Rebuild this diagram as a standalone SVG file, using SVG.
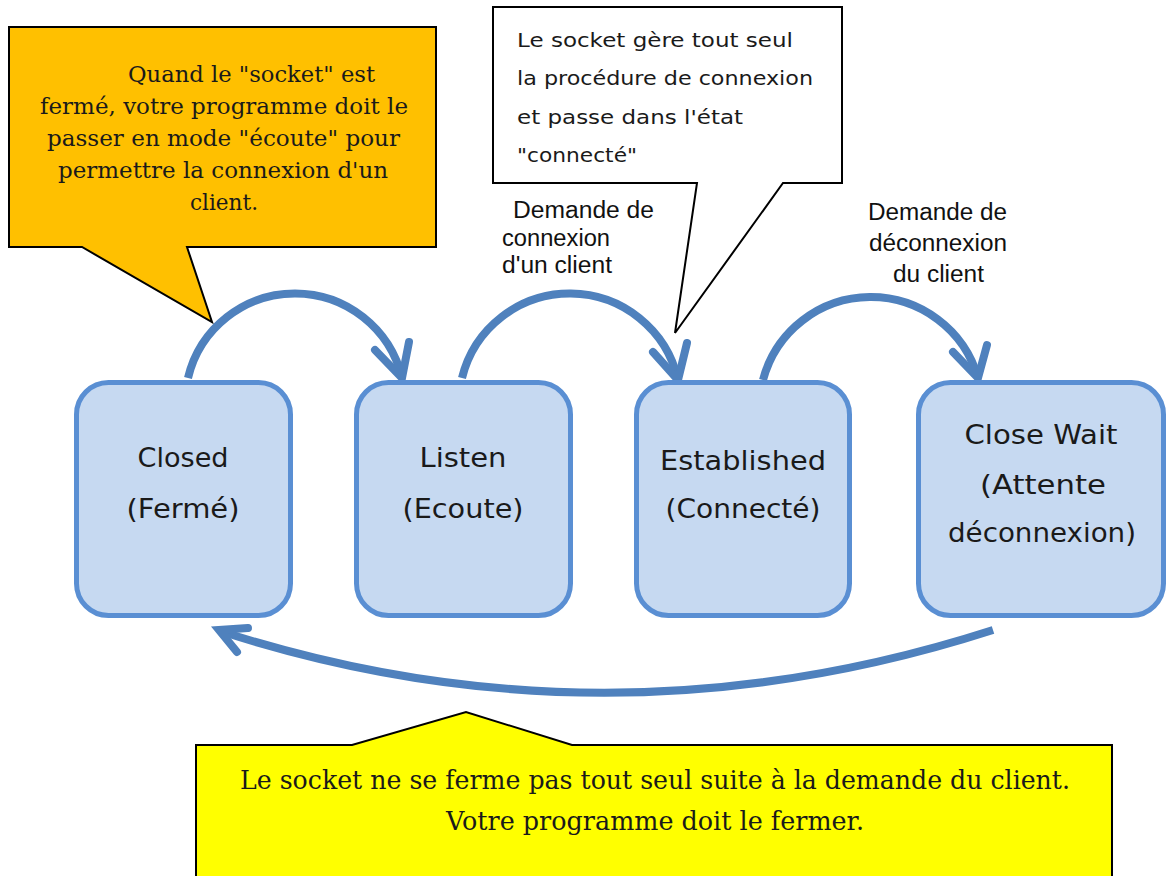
<svg xmlns="http://www.w3.org/2000/svg" width="1167" height="876" viewBox="0 0 1167 876">
<style>
.box{fill:#c6d9f1;stroke:#5a8fd3;stroke-width:5}
.nt{font-family:"Comic Sans MS","DejaVu Sans",sans-serif;font-size:26px;fill:#1a1a1a;text-anchor:middle}
.arc{fill:none;stroke:#4f81bd;stroke-width:8;stroke-linejoin:miter;stroke-linecap:butt}
.head{fill:none;stroke:#4f81bd;stroke-width:8;stroke-linejoin:miter;stroke-linecap:round}
.lbl{font-family:"Liberation Sans",Arial,sans-serif;font-size:23px;fill:#111}
.call{stroke:#000;stroke-width:2;stroke-linejoin:miter}
.ser{font-family:"DejaVu Serif","Liberation Serif",serif;font-size:22px;fill:#1a1a1a}
.big{font-size:26px;text-anchor:middle}
.com{font-family:"Comic Sans MS","DejaVu Sans",sans-serif;font-size:20px;fill:#1a1a1a}
</style>

<g id="callout-orange">
<path class="call" fill="#ffc000" d="M9,27 H436 V247 H187 L212,322 L82,247 H9 Z"/>
<text class="ser" x="128" y="82" textLength="247" lengthAdjust="spacingAndGlyphs">Quand le "socket" est</text>
<text class="ser" x="40" y="114" textLength="368" lengthAdjust="spacingAndGlyphs">fermé, votre programme doit le</text>
<text class="ser" x="47" y="146" textLength="353" lengthAdjust="spacingAndGlyphs">passer en mode "écoute" pour</text>
<text class="ser" x="58" y="178" textLength="330" lengthAdjust="spacingAndGlyphs">permettre la connexion d'un</text>
<text class="ser" x="190" y="210" textLength="68" lengthAdjust="spacingAndGlyphs">client.</text>
</g>

<g id="callout-white">
<path class="call" fill="#ffffff" d="M493,7 H842 V183 H783 L675,333 L697,183 H493 Z"/>
<text class="com" x="517" y="47" textLength="276" lengthAdjust="spacingAndGlyphs">Le socket gère tout seul</text>
<text class="com" x="517" y="85" textLength="296" lengthAdjust="spacingAndGlyphs">la procédure de connexion</text>
<text class="com" x="517" y="124" textLength="226" lengthAdjust="spacingAndGlyphs">et passe dans l'état</text>
<text class="com" x="517" y="162" textLength="120" lengthAdjust="spacingAndGlyphs">"connecté"</text>
</g>

<g id="callout-yellow">
<path class="call" fill="#ffff00" d="M196,745 H352 L466,712 L572,745 H1112 V880 H196 Z"/>
<text class="ser big" x="655" y="789" textLength="830" lengthAdjust="spacingAndGlyphs">Le socket ne se ferme pas tout seul suite à la demande du client.</text>
<text class="ser big" x="655" y="830" textLength="418" lengthAdjust="spacingAndGlyphs">Votre programme doit le fermer.</text>
</g>

<g id="label-connexion">
<text class="lbl" x="513" y="218" textLength="141" lengthAdjust="spacingAndGlyphs">Demande de</text>
<text class="lbl" x="502" y="246" textLength="108" lengthAdjust="spacingAndGlyphs">connexion</text>
<text class="lbl" x="502" y="273" textLength="110" lengthAdjust="spacingAndGlyphs">d'un client</text>
</g>

<g id="label-deconnexion">
<text class="lbl" x="868" y="220" textLength="139" lengthAdjust="spacingAndGlyphs">Demande de</text>
<text class="lbl" x="869" y="251" textLength="138" lengthAdjust="spacingAndGlyphs">déconnexion</text>
<text class="lbl" x="893" y="282" textLength="91" lengthAdjust="spacingAndGlyphs">du client</text>
</g>

<g id="connectors">
<path class="arc" d="M188,378 A110,110 0 0 1 402,378"/>
<polyline class="head" points="375,350 402,378 409,342"/>
<path class="arc" d="M462,378 A111,111 0 0 1 678,380"/>
<polyline class="head" points="653,352 678,380 687,343"/>
<path class="arc" d="M763,380 A111.5,111.5 0 0 1 978,378"/>
<polyline class="head" points="953,352 978,378 987,345"/>
<path class="arc" d="M993,630 Q605,755 220,631" stroke-linecap="round"/>
<polyline class="head" points="248,628 219,630 237,652"/>
</g>

<g id="node-closed">
<rect class="box" x="76.5" y="382.5" width="214" height="233" rx="32"/>
<text class="nt" x="183" y="467" textLength="91" lengthAdjust="spacingAndGlyphs">Closed</text>
<text class="nt" x="183" y="518" textLength="113" lengthAdjust="spacingAndGlyphs">(Fermé)</text>
</g>

<g id="node-listen">
<rect class="box" x="356.5" y="382.5" width="214" height="233" rx="32"/>
<text class="nt" x="463" y="467" textLength="87" lengthAdjust="spacingAndGlyphs">Listen</text>
<text class="nt" x="463" y="518" textLength="121" lengthAdjust="spacingAndGlyphs">(Ecoute)</text>
</g>

<g id="node-established">
<rect class="box" x="636.5" y="382.5" width="213" height="233" rx="32"/>
<text class="nt" x="743" y="470" textLength="166" lengthAdjust="spacingAndGlyphs">Established</text>
<text class="nt" x="743" y="518" textLength="155" lengthAdjust="spacingAndGlyphs">(Connecté)</text>
</g>

<g id="node-closewait">
<rect class="box" x="918.5" y="382.5" width="245" height="233" rx="32"/>
<text class="nt" x="1041" y="444" textLength="153" lengthAdjust="spacingAndGlyphs">Close Wait</text>
<text class="nt" x="1043" y="494" textLength="126" lengthAdjust="spacingAndGlyphs">(Attente</text>
<text class="nt" x="1042" y="542" textLength="188" lengthAdjust="spacingAndGlyphs">déconnexion)</text>
</g>
</svg>
